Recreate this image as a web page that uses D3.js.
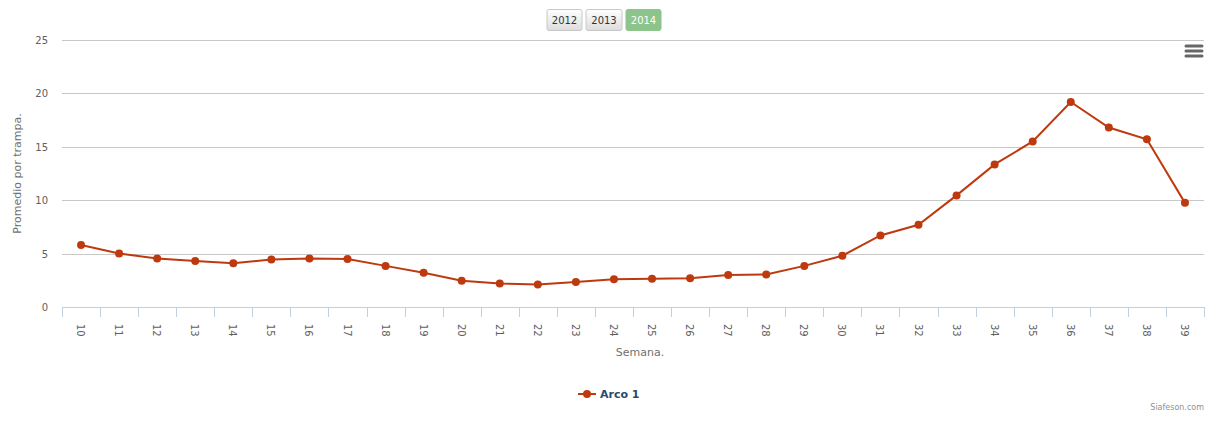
<!DOCTYPE html>
<html>
<head>
<meta charset="utf-8">
<script src="https://cdn.jsdelivr.net/npm/d3@7"></script>
<style>
  body { margin: 0; background: #fff; overflow: hidden; }
  text { font-family: "DejaVu Sans", Verdana, sans-serif; }
</style>
</head>
<body>
<script>
//Data
var weeks = [10, 11, 12, 13, 14, 15, 16, 17, 18, 19, 20, 21, 22, 23, 24, 25, 26, 27, 28, 29,
             30, 31, 32, 33, 34, 35, 36, 37, 38, 39];
var arco1 = [5.8, 5.0, 4.55, 4.3, 4.1, 4.45, 4.55, 4.5, 3.85, 3.2, 2.45, 2.2, 2.1, 2.35, 2.6, 2.65, 2.7,
             3.0, 3.05, 3.85, 4.8, 6.7, 7.7, 10.45, 13.35, 15.5, 19.2, 16.8, 15.7, 9.75];
var yTicks = [0, 5, 10, 15, 20, 25];
var years = ["2012", "2013", "2014"];
var seriesName = "Arco 1";

//Parameters
var w = 1207;
var h = 423;
var plotLeft = 62, plotRight = 1204, plotTop = 40, plotBottom = 307;
var lineColor = "#BE3A0E";
var gridColor = "#C8C8C8";
var axisColor = "#C0D0E0";
var labelColor = "#606060";

var svg = d3.select("body").append("svg")
    .attr("width", w)
    .attr("height", h);

var x = d3.scaleBand()
    .domain(weeks)
    .range([plotLeft, plotRight]);

var y = d3.scaleLinear()
    .domain([0, 25])
    .range([plotBottom, plotTop]);

//Grid lines
svg.append("g")
    .selectAll("line")
    .data(yTicks.filter(function (d) { return d > 0; }))
    .join("line")
    .attr("x1", plotLeft)
    .attr("x2", plotRight)
    .attr("y1", function (d) { return Math.round(y(d)) + 0.5; })
    .attr("y2", function (d) { return Math.round(y(d)) + 0.5; })
    .attr("stroke", gridColor)
    .attr("stroke-width", 1);

//Y labels
svg.append("g")
    .selectAll("text")
    .data(yTicks)
    .join("text")
    .attr("x", 48)
    .attr("y", function (d) { return y(d) + 4; })
    .attr("text-anchor", "end")
    .attr("font-size", 10)
    .attr("fill", labelColor)
    .text(function (d) { return d; });

//Y title
svg.append("text")
    .attr("transform", "translate(21," + ((plotTop + plotBottom) / 2) + ") rotate(-90)")
    .attr("text-anchor", "middle")
    .attr("font-size", 11)
    .attr("fill", "#707070")
    .text("Promedio por trampa.");

//X axis
var xAxis = svg.append("g");
xAxis.append("line")
    .attr("x1", plotLeft)
    .attr("x2", plotRight)
    .attr("y1", plotBottom + 0.5)
    .attr("y2", plotBottom + 0.5)
    .attr("stroke", axisColor);

var tickPos = weeks.map(function (d) { return x(d); }).concat([plotRight]);
xAxis.selectAll("line.tick")
    .data(tickPos)
    .join("line")
    .attr("class", "tick")
    .attr("x1", function (d) { return Math.round(d) + 0.5; })
    .attr("x2", function (d) { return Math.round(d) + 0.5; })
    .attr("y1", plotBottom)
    .attr("y2", plotBottom + 10)
    .attr("stroke", axisColor);

xAxis.selectAll("text")
    .data(weeks)
    .join("text")
    .attr("transform", function (d) {
        return "translate(" + (x(d) + x.bandwidth() / 2 - 4) + "," + (plotBottom + 17) + ") rotate(90)";
    })
    .attr("text-anchor", "start")
    .attr("font-size", 10)
    .attr("fill", labelColor)
    .text(function (d) { return d; });

svg.append("text")
    .attr("x", (plotLeft + plotRight) / 2 + 7)
    .attr("y", 356)
    .attr("text-anchor", "middle")
    .attr("font-size", 11)
    .attr("fill", "#707070")
    .text("Semana.");

//Series
var line = d3.line()
    .x(function (d, i) { return x(weeks[i]) + x.bandwidth() / 2; })
    .y(function (d) { return y(d); });

svg.append("path")
    .attr("d", line(arco1))
    .attr("fill", "none")
    .attr("stroke", lineColor)
    .attr("stroke-width", 2);

svg.append("g")
    .selectAll("circle")
    .data(arco1)
    .join("circle")
    .attr("cx", function (d, i) { return x(weeks[i]) + x.bandwidth() / 2; })
    .attr("cy", function (d) { return y(d); })
    .attr("r", 4)
    .attr("fill", lineColor);

//Year buttons
var btnX = [547, 586, 626];
var btnW = [35, 36, 35];
var defs = svg.append("defs");
var grad = defs.append("linearGradient")
    .attr("id", "btnGrad")
    .attr("x1", 0).attr("y1", 0).attr("x2", 0).attr("y2", 1);
grad.append("stop").attr("offset", "0%").attr("stop-color", "#FFFFFF");
grad.append("stop").attr("offset", "100%").attr("stop-color", "#DCDCDC");

var btn = svg.append("g")
    .selectAll("g")
    .data(years)
    .join("g")
    .attr("transform", function (d, i) { return "translate(" + btnX[i] + ",9.5)"; });

btn.append("rect")
    .attr("width", function (d, i) { return btnW[i]; })
    .attr("height", 21)
    .attr("rx", 2)
    .attr("fill", function (d, i) { return i === 2 ? "#8CC48C" : "url(#btnGrad)"; })
    .attr("stroke", function (d, i) { return i === 2 ? "#8CC48C" : "#C8C8C8"; });

btn.append("text")
    .attr("x", function (d, i) { return btnW[i] / 2; })
    .attr("y", 14.5)
    .attr("text-anchor", "middle")
    .attr("font-size", 10)
    .attr("fill", function (d, i) { return i === 2 ? "#FFFFFF" : "#333333"; })
    .text(function (d) { return d; });

//Menu icon
svg.append("g")
    .selectAll("line")
    .data([46, 51, 56])
    .join("line")
    .attr("x1", 1186)
    .attr("x2", 1202)
    .attr("y1", function (d) { return d; })
    .attr("y2", function (d) { return d; })
    .attr("stroke", "#666666")
    .attr("stroke-width", 3)
    .attr("stroke-linecap", "round");

//Legend
var legend = svg.append("g").attr("transform", "translate(578,394)");
legend.append("line")
    .attr("x1", 0).attr("x2", 18)
    .attr("stroke", lineColor)
    .attr("stroke-width", 2);
legend.append("circle")
    .attr("cx", 9)
    .attr("r", 4)
    .attr("fill", lineColor);
legend.append("text")
    .attr("x", 22)
    .attr("y", 4)
    .attr("font-size", 11)
    .attr("font-weight", "bold")
    .attr("fill", "#274B6D")
    .text(seriesName);

//Credits
svg.append("text")
    .attr("x", 1204)
    .attr("y", 410)
    .attr("text-anchor", "end")
    .attr("font-size", 8)
    .attr("fill", "#909090")
    .text("Siafeson.com");
</script>
</body>
</html>
